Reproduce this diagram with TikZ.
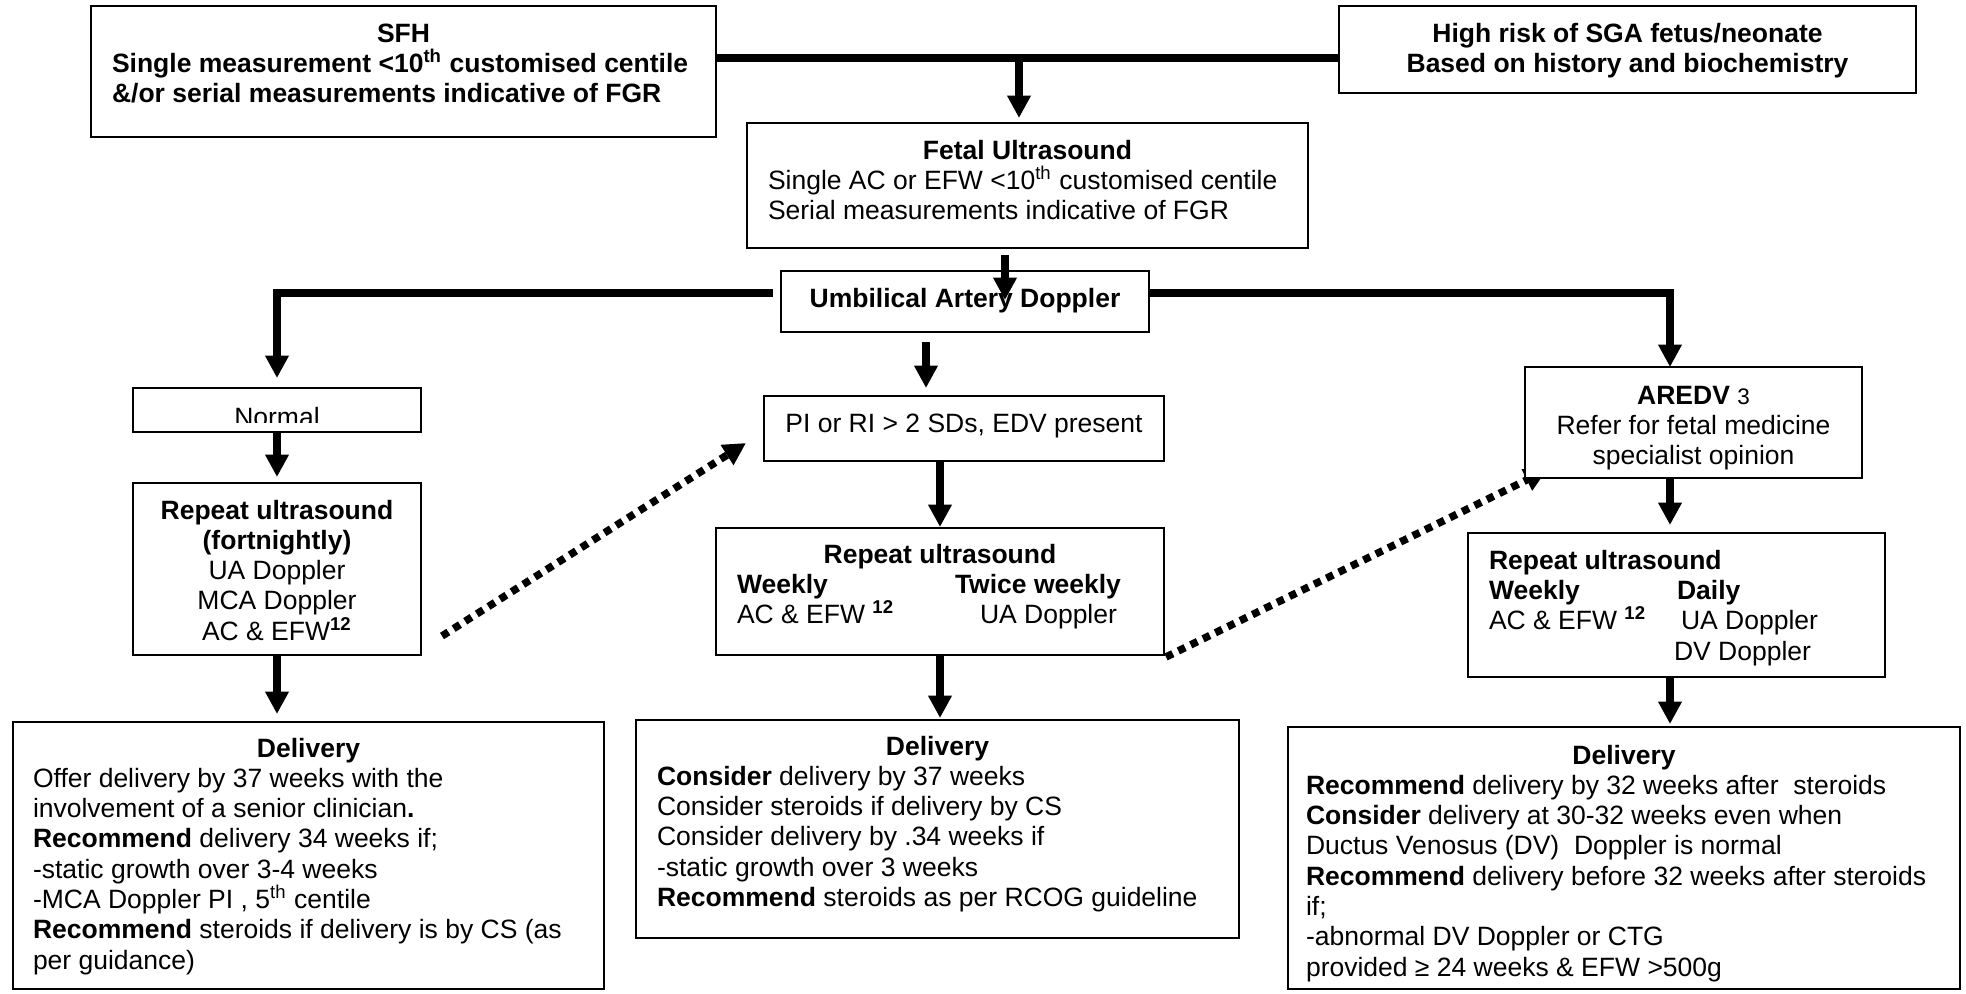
\documentclass[tikz,border=0pt]{standalone}
\usepackage{fontspec}
\setmainfont{Liberation Sans}
\usetikzlibrary{arrows.meta,calc}
\newcommand\myfs{\fontsize{10.6pt}{12.12pt}\selectfont}
\newcommand\supx[1]{\smash{\textsuperscript{#1}}}
\newcommand\mkbox[6][]{\node[box,#1,minimum width={(#4-#2)*0.4pt},minimum height={(#5-#3)*0.4pt}] (#6) at ({(#2+#4)/2},{(#3+#5)/2}) {};}
\pgfdeclarelayer{bg}
\pgfsetlayers{bg,main}
\begin{document}
\begin{tikzpicture}[x=0.4pt,y=-0.4pt,
  box/.style={draw,line width=0.75pt,fill=white,inner sep=0pt,outer sep=0pt},
  txt/.style={inner sep=0pt,outer sep=0pt,font=\myfs,yshift=8.484pt},
  arr/.style={line width=3pt,-{Triangle[length=9pt,width=9pt]}},
  bar/.style={line width=3pt},
  dots/.style={line width=3pt,dash pattern=on 3pt off 2.5pt,-{Triangle[length=9pt,width=9pt]}}]
\useasboundingbox (0,0) rectangle (1966,993);

% ---- boxes and texts ----
\mkbox{91}{6}{716}{137}{sfh}
\node[txt,anchor=north,font=\myfs\bfseries] (sfhT) at (403.5,42) {\strut SFH};
\node[txt,anchor=north west,font=\myfs\bfseries,align=left] (sfhB) at (112,72.3) {\strut Single measurement <10\supx{th} customised centile\\\&/or serial measurements indicative of FGR};

\mkbox{1339}{6}{1916}{93}{hr}
\node[txt,anchor=north,font=\myfs\bfseries,align=center] (hrT) at (1627.5,42) {\strut High risk of SGA fetus/neonate\\Based on history and biochemistry};

\mkbox{747}{123}{1308}{248}{fetal}
\node[txt,anchor=north,font=\myfs\bfseries] (fetT) at (1027.5,159) {\strut Fetal Ultrasound};
\node[txt,anchor=north west,align=left] (fetB) at (768,189.3) {\strut Single AC or EFW <10\supx{th} customised centile\\Serial measurements indicative of FGR};

\mkbox{781}{271}{1149}{332}{ua}
\node[txt,anchor=north,font=\myfs\bfseries] (uaT) at (965,307) {\strut Umbilical Artery Doppler};

\mkbox{133}{388}{421}{432}{normal}
\begin{scope}
\clip (133,388) rectangle (421,422);
\node[txt,anchor=north] (normalT) at (277,426) {\strut Normal};
\end{scope}

\mkbox{133}{483}{421}{655}{rep1}
\node[txt,anchor=north,align=center] (rep1T) at (277,519) {\strut\textbf{Repeat ultrasound}\\\textbf{(fortnightly)}\\UA Doppler\\MCA Doppler\\AC \& EFW\supx{\textbf{12}}};

\mkbox{764}{396}{1164}{461}{pi}
\node[txt,anchor=north] (piT) at (964,432) {\strut PI or RI > 2 SDs, EDV present};

\mkbox{716}{528}{1164}{655}{rep2}
\node[txt,anchor=north,font=\myfs\bfseries] (rep2T) at (940,563) {\strut Repeat ultrasound};
\node[txt,anchor=north west,align=left] (rep2L) at (737,593.3) {\strut\textbf{Weekly}\\AC \& EFW \supx{\textbf{12}}};
\node[txt,anchor=north west,font=\myfs\bfseries] (rep2R) at (955,593.3) {\strut Twice weekly};
\node[txt,anchor=north west] (rep2R2) at (980,623.6) {\strut UA Doppler};

\mkbox{1525}{367}{1862}{478}{aredv}
\node[txt,anchor=north,align=center] (aredvT) at (1693.5,404) {\strut\textbf{AREDV} {\fontsize{9pt}{10pt}\selectfont 3}\\Refer for fetal medicine\\specialist opinion};

\mkbox{1468}{533}{1885}{677}{rep3}
\node[txt,anchor=north west,align=left] (rep3L) at (1489,569) {\strut\textbf{Repeat ultrasound}\\\textbf{Weekly}\\AC \& EFW \supx{\textbf{12}}};
\node[txt,anchor=north west,font=\myfs\bfseries] (rep3R) at (1677,599.3) {\strut Daily};
\node[txt,anchor=north west] (rep3R2) at (1681,629.6) {\strut UA Doppler};
\node[txt,anchor=north west] (rep3R3) at (1674,660) {\strut DV Doppler};

\mkbox{13}{722}{604}{989}{del1}
\node[txt,anchor=north,font=\myfs\bfseries] (del1T) at (308.5,757) {\strut Delivery};
\node[txt,anchor=north west,align=left] (del1B) at (33,787.3) {\strut Offer delivery by 37 weeks with the\\involvement of a senior clinician\textbf{.}\\\textbf{Recommend} delivery 34 weeks if;\\-static growth over 3-4 weeks\\-MCA Doppler PI , 5\supx{th} centile\\\textbf{Recommend} steroids if delivery is by CS (as\\per guidance)};

\mkbox{636}{720}{1239}{938}{del2}
\node[txt,anchor=north,font=\myfs\bfseries] (del2T) at (937.5,755) {\strut Delivery};
\node[txt,anchor=north west,align=left] (del2B) at (657,785.3) {\strut\textbf{Consider} delivery by 37 weeks\\Consider steroids if delivery by CS\\Consider delivery by .34 weeks if\\-static growth over 3 weeks\\\textbf{Recommend} steroids as per RCOG guideline};

\mkbox{1288}{727}{1960}{989}{del3}
\node[txt,anchor=north,font=\myfs\bfseries] (del3T) at (1624,764) {\strut Delivery};
\node[txt,anchor=north west,align=left] (del3B) at (1306,794.3) {\strut\textbf{Recommend} delivery by 32 weeks after\ \ steroids\\\textbf{Consider} delivery at 30-32 weeks even when\\Ductus Venosus (DV)\ \ Doppler is normal\\\textbf{Recommend} delivery before 32 weeks after steroids\\if;\\-abnormal DV Doppler or CTG\\provided ≥ 24 weeks \& EFW >500g};

% ---- column coordinates ----
\coordinate (cF) at (1019,0);
\coordinate (cU) at (1005,0);
\coordinate (cM1) at (926,0);
\coordinate (cM2) at (940,0);
\coordinate (cR) at (1670,0);
\coordinate (t1) at ($(sfh.east)+(0,-13.5)$);

% ---- connectors ----
\draw[bar] (t1) -- (t1 -| hr.west);
\draw[arr] (t1 -| cF) -- ($(fetal.north -| cF)+(0,-5)$);
\draw[arr] ($(fetal.south -| cU)+(0,7)$) -- ($(ua.north -| cU)+(0,29)$);
\draw[arr] ($(ua.west)+(-8,-8.5)$) -| ($(normal.north)+(0,-10)$);
\draw[arr] ($(ua.east)+(0,-8.5)$) -| (aredv.north -| cR);
\draw[arr] ($(ua.south -| cM1)+(0,10)$) -- ($(pi.north -| cM1)+(0,-8)$);
\draw[arr] (pi.south -| cM2) -- ($(rep2.north -| cM2)+(0,-1)$);
\draw[arr] (rep2.south -| cM2) -- ($(del2.north -| cM2)+(0,-2)$);
\draw[arr] (normal.south) -- ($(rep1.north)+(0,-6)$);
\draw[arr] (rep1.south) -- ($(del1.north -| rep1.south)+(0,-8)$);
\draw[arr] (aredv.south -| cR) -- ($(rep3.north -| cR)+(0,-8)$);
\draw[arr] (rep3.south -| cR) -- ($(del3.north -| cR)+(0,-3)$);

\begin{pgfonlayer}{bg}
\fill[white] (0,0) rectangle (1966,993);
\draw[dots] ($(rep1.east)+(21,67)$) -- ($(pi.south west)+(-18,-18)$);
\draw[dots] ($(rep2.south east)+(2,2)$) -- ($(aredv.south west)+(22,-8)$);
\end{pgfonlayer}
\end{tikzpicture}
\end{document}
